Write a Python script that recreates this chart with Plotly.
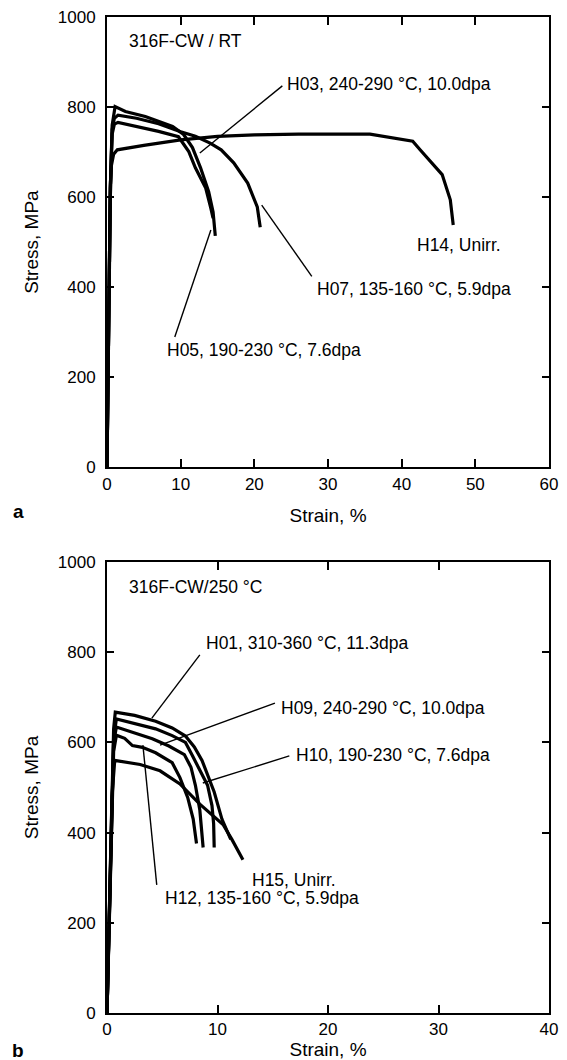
import plotly.graph_objects as go

# ---------------- Panel a: 316F-CW / RT ----------------
a_H14_strain = [0, 0.15, 0.3, 0.45, 0.6, 0.9, 1.4, 5, 10, 15, 20, 26, 35.7, 38.9, 41.5, 42.5, 45.5, 46.6, 47.0]
a_H14_stress = [0, 200, 420, 600, 670, 695, 705, 715, 727, 735, 738, 740, 740, 732, 724, 705, 650, 594, 538]

a_H03_strain = [0, 0.15, 0.3, 0.45, 0.7, 1.1, 2.5, 5.2, 8.9, 10.4, 11.6, 12.7, 13.8, 14.4, 14.7]
a_H03_stress = [0, 200, 420, 620, 760, 801, 790, 779, 757, 739, 710, 665, 612, 567, 514]

a_H05_strain = [0, 0.15, 0.3, 0.45, 0.7, 1.0, 1.5, 4.2, 7, 9.7, 11.1, 12, 13.4, 14.1, 14.4]
a_H05_stress = [0, 200, 420, 620, 740, 762, 766, 757, 746, 734, 701, 665, 620, 575, 553]

a_H07_strain = [0, 0.15, 0.3, 0.45, 0.7, 1.0, 1.5, 4, 7, 10, 12, 14, 15.5, 17.2, 19.1, 20.4, 20.8]
a_H07_stress = [0, 200, 420, 620, 750, 775, 782, 775, 763, 745, 735, 720, 705, 676, 631, 578, 533]

# ---------------- Panel b: 316F-CW / 250 °C ----------------
b_H01_strain = [0, 0.15, 0.3, 0.45, 0.6, 0.75, 2.5, 4.4, 5.9, 7.1, 7.9, 8.6, 9.1, 9.7, 10.4, 10.9, 11.2]
b_H01_stress = [0, 150, 350, 520, 630, 667, 660, 647, 632, 614, 590, 560, 530, 490, 430, 400, 385]

b_H09_strain = [0, 0.15, 0.3, 0.45, 0.6, 0.85, 2.3, 4.4, 5.9, 7.1, 7.7, 8.4, 9.1, 9.5, 9.65, 9.7]
b_H09_stress = [0, 150, 350, 520, 610, 652, 643, 630, 615, 600, 572, 540, 505, 460, 420, 367]

b_H10_strain = [0, 0.15, 0.3, 0.45, 0.6, 0.85, 2.3, 4.1, 5.6, 7.0, 7.6, 8.0, 8.4, 8.6, 8.7]
b_H10_stress = [0, 150, 350, 500, 600, 634, 622, 608, 592, 573, 545, 505, 450, 405, 367]

b_H12_strain = [0, 0.15, 0.3, 0.45, 0.6, 0.85, 1.6, 2.3, 3.2, 4.4, 5.9, 6.6, 7.3, 7.8, 8.1]
b_H12_stress = [0, 150, 350, 500, 580, 616, 609, 593, 589, 577, 555, 522, 478, 430, 376]

b_H15_strain = [0, 0.15, 0.3, 0.45, 0.7, 1.6, 3.0, 4.8, 6.6, 8.4, 10.5, 11.3, 12.3]
b_H15_stress = [0, 150, 350, 480, 560, 556, 551, 537, 508, 463, 418, 385, 340]

x_ticks_a = [0, 10, 20, 30, 40, 50, 60]
x_ticks_b = [0, 10, 20, 30, 40]
y_ticks = [0, 200, 400, 600, 800, 1000]

# annotation labels: (text, x, y, leader_x0, leader_y0, leader_x1, leader_y1)
labels_a = [
    ("316F-CW / RT", 2.7, 947, None, None, None, None),
    ("H03, 240-290 °C, 10.0dpa", 24.2, 851, 23.8, 847, 12.6, 698),
    ("H14, Unirr.", 41.8, 493, None, None, None, None),
    ("H07, 135-160 °C, 5.9dpa", 28.2, 396, 27.8, 424, 21.0, 582),
    ("H05, 190-230 °C, 7.6dpa", 7.9, 260, 9.2, 289, 14.1, 527),
]
labels_b = [
    ("316F-CW/250 °C", 1.8, 945, None, None, None, None),
    ("H01, 310-360 °C, 11.3dpa", 8.8, 820, 8.4, 794, 4.06, 654),
    ("H09, 240-290 °C, 10.0dpa", 15.6, 676, 15.2, 687, 4.8, 594),
    ("H10, 190-230 °C, 7.6dpa", 16.9, 572, 16.5, 570, 8.67, 510),
    ("H15, Unirr.", 12.9, 295, None, None, None, None),
    ("H12, 135-160 °C, 5.9dpa", 5.1, 255, 4.5, 284, 3.25, 594),
]

FONT = "Liberation Sans, Arial, sans-serif"

fig = go.Figure()

def add_curve(x, y, name, xa, ya):
    fig.add_trace(go.Scatter(x=x, y=y, mode="lines", name=name,
                             line=dict(color="black", width=3.2),
                             xaxis=xa, yaxis=ya, showlegend=False,
                             hoverinfo="name+x+y"))

add_curve(a_H14_strain, a_H14_stress, "H14", "x", "y")
add_curve(a_H03_strain, a_H03_stress, "H03", "x", "y")
add_curve(a_H05_strain, a_H05_stress, "H05", "x", "y")
add_curve(a_H07_strain, a_H07_stress, "H07", "x", "y")

add_curve(b_H01_strain, b_H01_stress, "H01", "x2", "y2")
add_curve(b_H09_strain, b_H09_stress, "H09", "x2", "y2")
add_curve(b_H10_strain, b_H10_stress, "H10", "x2", "y2")
add_curve(b_H12_strain, b_H12_stress, "H12", "x2", "y2")
add_curve(b_H15_strain, b_H15_stress, "H15", "x2", "y2")

annotations = []
shapes = []
for labels, xr, yr in ((labels_a, "x", "y"), (labels_b, "x2", "y2")):
    for text, x, y, lx0, ly0, lx1, ly1 in labels:
        annotations.append(dict(text=text, x=x, y=y, xref=xr, yref=yr,
                                xanchor="left", yanchor="middle", showarrow=False,
                                font=dict(family=FONT, size=17.5, color="black")))
        if lx0 is not None:
            shapes.append(dict(type="line", xref=xr, yref=yr, x0=lx0, y0=ly0,
                               x1=lx1, y1=ly1, line=dict(color="black", width=1.4)))

annotations.append(dict(text="<b>a</b>", x=-0.201, y=0.504, xref="paper", yref="paper",
                        xanchor="center", yanchor="middle", showarrow=False,
                        font=dict(family=FONT, size=19, color="black")))
annotations.append(dict(text="<b>b</b>", x=-0.201, y=-0.038, xref="paper", yref="paper",
                        xanchor="center", yanchor="middle", showarrow=False,
                        font=dict(family=FONT, size=19, color="black")))

axis_common = dict(showline=True, linecolor="black", linewidth=2, mirror="ticks",
                   ticks="inside", tickcolor="black", tickwidth=1.5,
                   showgrid=False, zeroline=False, automargin=False,
                   tickfont=dict(family=FONT, size=17, color="black"))

fig.update_layout(
    width=567, height=1060,
    margin=dict(l=107, r=18, t=17, b=47),
    paper_bgcolor="white", plot_bgcolor="white",
    font=dict(family=FONT, color="black"),
    xaxis=dict(domain=[0, 1], anchor="y", range=[0, 60], tickvals=x_ticks_a, ticklen=8,
               ticklabelstandoff=0,
               title=dict(text="Strain, %", font=dict(family=FONT, size=19), standoff=16),
               **axis_common),
    yaxis=dict(domain=[0.548, 1], anchor="x", range=[0, 1000], tickvals=y_ticks, ticklen=7,
               ticklabelstandoff=6,
               title=dict(text="Stress, MPa", font=dict(family=FONT, size=19), standoff=14),
               **axis_common),
    xaxis2=dict(domain=[0, 1], anchor="y2", range=[0, 40], tickvals=x_ticks_b, ticklen=8,
                ticklabelstandoff=0,
                title=dict(text="Strain, %", font=dict(family=FONT, size=19), standoff=16),
                **axis_common),
    yaxis2=dict(domain=[0, 0.4528], anchor="x2", range=[0, 1000], tickvals=y_ticks, ticklen=7,
                ticklabelstandoff=6,
                title=dict(text="Stress, MPa", font=dict(family=FONT, size=19), standoff=14),
                **axis_common),
    annotations=annotations,
    shapes=shapes,
)

fig.write_html(
    "out.html",
    config={"displayModeBar": False},
    post_script="document.body.style.margin='0';document.body.style.overflow='hidden';",
)
